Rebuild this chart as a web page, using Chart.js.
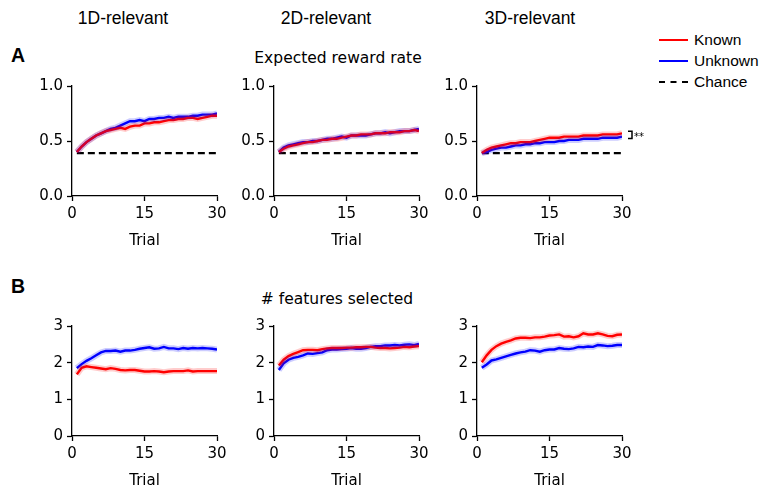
<!DOCTYPE html>
<html>
<head>
<meta charset="utf-8">
<script src="https://cdn.jsdelivr.net/npm/chart.js@4.4.1/dist/chart.umd.min.js"></script>
<style>
  body { margin: 0; background: #fff; width: 761px; height: 489px; position: relative; overflow: hidden; }
  canvas { position: absolute; }
  .txt { position: absolute; white-space: nowrap; color: #000; transform: translate(-50%, -50%); }
  .arial { font-family: "Liberation Sans", Arial, sans-serif; }
  .dejavu { font-family: "DejaVu Sans", sans-serif; }
  .leg { position: absolute; font-family: "Liberation Sans", Arial, sans-serif; font-size: 15.5px; transform: translateY(-50%); }
  .legline { position: absolute; width: 29px; height: 0; }
</style>
</head>
<body>

<div class="txt arial" style="left:123px;top:18px;font-size:17.5px">1D-relevant</div>
<div class="txt arial" style="left:326px;top:18px;font-size:17.5px">2D-relevant</div>
<div class="txt arial" style="left:530px;top:18px;font-size:17.5px">3D-relevant</div>

<div class="txt arial" style="left:18px;top:55px;font-size:19.5px;font-weight:bold">A</div>
<div class="txt dejavu" style="left:338px;top:58px;font-size:15.5px">Expected reward rate</div>
<div class="txt arial" style="left:18px;top:286px;font-size:19.5px;font-weight:bold">B</div>
<div class="txt dejavu" style="left:337px;top:299px;font-size:15.5px"># features selected</div>

<div class="legline" style="left:659px;top:39px;border-top:2px solid #ff0000"></div>
<div class="leg" style="left:694px;top:40px">Known</div>
<div class="legline" style="left:659px;top:60px;border-top:2px solid #0000ff"></div>
<div class="leg" style="left:694px;top:61px">Unknown</div>
<div class="legline" style="left:659px;top:81px;border-top:2px dashed #000"></div>
<div class="leg" style="left:694px;top:82px">Chance</div>

<canvas id="a1"></canvas>
<canvas id="a2"></canvas>
<canvas id="a3"></canvas>
<canvas id="b1"></canvas>
<canvas id="b2"></canvas>
<canvas id="b3"></canvas>

<script>
const trials = [1, 2, 3, 4, 5, 6, 7, 8, 9, 10, 11, 12, 13, 14, 15, 16, 17, 18, 19, 20, 21, 22, 23, 24, 25, 26, 27, 28, 29, 30];
const chanceLevel = 0.39;
const chanceSpan = [1, 30];

// Expected reward rate
const reward1DKnown   = [0.40,0.45,0.49,0.52,0.55,0.57,0.59,0.60,0.61,0.62,0.61,0.63,0.64,0.64,0.66,0.66,0.67,0.67,0.68,0.69,0.69,0.70,0.70,0.71,0.71,0.70,0.71,0.72,0.73,0.73];
const reward1DUnknown = [0.40,0.45,0.49,0.52,0.55,0.57,0.59,0.61,0.62,0.64,0.66,0.68,0.68,0.69,0.68,0.70,0.70,0.71,0.71,0.72,0.71,0.72,0.72,0.72,0.73,0.73,0.74,0.74,0.74,0.75];
const reward2DKnown   = [0.40,0.43,0.45,0.46,0.47,0.48,0.49,0.49,0.50,0.51,0.51,0.52,0.52,0.53,0.54,0.55,0.55,0.56,0.56,0.56,0.57,0.57,0.57,0.58,0.58,0.58,0.59,0.59,0.60,0.59];
const reward2DUnknown = [0.40,0.44,0.46,0.47,0.48,0.49,0.49,0.50,0.50,0.51,0.52,0.52,0.53,0.54,0.53,0.55,0.55,0.55,0.55,0.56,0.57,0.57,0.58,0.57,0.58,0.59,0.59,0.59,0.60,0.61];
const reward3DKnown   = [0.39,0.42,0.44,0.45,0.46,0.47,0.48,0.48,0.49,0.49,0.49,0.50,0.51,0.52,0.53,0.53,0.53,0.54,0.54,0.54,0.54,0.55,0.55,0.55,0.55,0.56,0.56,0.56,0.56,0.57];
const reward3DUnknown = [0.39,0.40,0.42,0.43,0.44,0.44,0.45,0.46,0.46,0.47,0.47,0.48,0.48,0.49,0.49,0.49,0.50,0.50,0.51,0.51,0.51,0.52,0.52,0.52,0.52,0.53,0.53,0.53,0.53,0.54];

// # features selected
const feat1DKnown   = [1.68,1.86,1.90,1.88,1.86,1.84,1.82,1.85,1.83,1.80,1.79,1.80,1.80,1.78,1.76,1.76,1.77,1.76,1.74,1.76,1.77,1.77,1.77,1.79,1.76,1.77,1.77,1.77,1.77,1.77];
const feat1DUnknown = [1.85,1.96,2.05,2.12,2.20,2.28,2.32,2.32,2.33,2.30,2.33,2.33,2.35,2.38,2.40,2.42,2.38,2.39,2.43,2.39,2.39,2.37,2.40,2.38,2.40,2.39,2.40,2.39,2.38,2.36];
const feat2DKnown   = [1.92,2.08,2.18,2.24,2.29,2.34,2.35,2.35,2.34,2.37,2.39,2.40,2.40,2.40,2.41,2.41,2.42,2.42,2.43,2.43,2.41,2.40,2.40,2.39,2.40,2.41,2.43,2.42,2.44,2.45];
const feat2DUnknown = [1.80,1.98,2.08,2.13,2.16,2.20,2.25,2.24,2.26,2.28,2.34,2.36,2.36,2.37,2.38,2.40,2.38,2.38,2.40,2.43,2.45,2.45,2.47,2.47,2.48,2.47,2.49,2.50,2.48,2.51];
const feat3DKnown   = [2.01,2.20,2.35,2.45,2.52,2.57,2.61,2.66,2.68,2.68,2.67,2.69,2.69,2.71,2.74,2.75,2.77,2.71,2.72,2.69,2.72,2.80,2.77,2.77,2.80,2.77,2.73,2.72,2.76,2.77];
const feat3DUnknown = [1.86,1.95,2.06,2.09,2.13,2.17,2.21,2.25,2.28,2.30,2.34,2.33,2.30,2.34,2.36,2.36,2.40,2.38,2.37,2.39,2.43,2.42,2.44,2.43,2.48,2.47,2.45,2.46,2.48,2.48];

const xTicks = [0, 15, 30];
const rewardTicks = [0, 0.5, 1.0];
const featTicks = [0, 1, 2, 3];

const RED = '#ff0000';
const BLUE = '#0000ff';
const PAD_LEFT = 50, PAD_TOP = 12, AXIS_H = 60;

function pts(values) {
    return values.map((v, i) => ({ x: trials[i], y: v }));
}

// significance bracket next to the last points of the 3D reward panel
const bracketPlugin = {
    id: 'bracket',
    afterDatasetsDraw(chart) {
        if (!chart.options.plugins.bracket.show) return;
        const ctx = chart.ctx;
        const x = chart.scales.x.getPixelForValue(30) + 10;
        const y1 = chart.scales.y.getPixelForValue(reward3DKnown[29]) - 2;
        const y2 = chart.scales.y.getPixelForValue(reward3DUnknown[29]) + 2;
        ctx.save();
        ctx.strokeStyle = '#000';
        ctx.lineWidth = 1.5;
        ctx.beginPath();
        ctx.moveTo(x - 4, y1);
        ctx.lineTo(x, y1);
        ctx.lineTo(x, y2);
        ctx.lineTo(x - 4, y2);
        ctx.stroke();
        ctx.fillStyle = '#000';
        ctx.font = '10px "DejaVu Sans"';
        ctx.textBaseline = 'middle';
        ctx.fillText('**', x + 2, (y1 + y2) / 2 + 2);
        ctx.restore();
    }
};

function makePanel(id, axisX, axisTop, known, unknown, yTicks, withChance, withBracket) {
    const plotW = 145, plotH = 111;
    const padRight = withBracket ? 34 : 16;
    const canvas = document.getElementById(id);
    canvas.width = PAD_LEFT + plotW + padRight;
    canvas.height = PAD_TOP + plotH + AXIS_H;
    canvas.style.left = (axisX - PAD_LEFT) + 'px';
    canvas.style.top = (axisTop - PAD_TOP) + 'px';

    const datasets = [
        { data: pts(known), borderColor: 'rgba(255,0,0,0.2)', borderWidth: 6 },
        { data: pts(unknown), borderColor: 'rgba(0,0,255,0.2)', borderWidth: 6 },
        { data: pts(known), borderColor: RED, borderWidth: 2.4 },
        { data: pts(unknown), borderColor: BLUE, borderWidth: 2.4 }
    ];
    if (withChance) {
        datasets.push({
            data: chanceSpan.map(t => ({ x: t, y: chanceLevel })),
            borderColor: '#000', borderWidth: 2.4, borderDash: [7, 4]
        });
    }
    datasets.forEach(d => { d.pointRadius = 0; d.fill = false; d.tension = 0; });

    const yMax = yTicks[yTicks.length - 1];
    return new Chart(canvas.getContext('2d'), {
        type: 'line',
        data: { datasets },
        plugins: [bracketPlugin],
        options: {
            responsive: false,
            animation: false,
            devicePixelRatio: 1,
            layout: { padding: { left: 0, top: PAD_TOP, right: padRight, bottom: 0 } },
            plugins: { legend: { display: false }, tooltip: { enabled: false }, bracket: { show: withBracket } },
            scales: {
                x: {
                    type: 'linear', min: 0, max: 30,
                    afterBuildTicks: s => { s.ticks = xTicks.map(v => ({ value: v })); },
                    afterFit: s => { s.height = AXIS_H; },
                    grid: { drawOnChartArea: false, drawTicks: true, tickLength: 5, color: '#000', tickWidth: 1.3 },
                    border: { display: true, color: '#000', width: 1.3 },
                    ticks: { color: '#000', font: { family: 'DejaVu Sans', size: 15 }, padding: 4, maxRotation: 0 },
                    title: { display: true, text: 'Trial', color: '#000', font: { family: 'DejaVu Sans', size: 15 }, padding: { top: 4, bottom: 6 } }
                },
                y: {
                    type: 'linear', min: 0, max: yMax,
                    afterBuildTicks: s => { s.ticks = yTicks.map(v => ({ value: v })); },
                    afterFit: s => { s.width = PAD_LEFT; },
                    grid: { drawOnChartArea: false, drawTicks: true, tickLength: 5, color: '#000', tickWidth: 1.3 },
                    border: { display: true, color: '#000', width: 1.3 },
                    ticks: {
                        color: '#000', font: { family: 'DejaVu Sans', size: 15 }, padding: 4,
                        callback: v => yMax === 1 ? v.toFixed(1) : String(v)
                    }
                }
            }
        }
    });
}

makePanel('a1', 72, 85, reward1DKnown, reward1DUnknown, rewardTicks, true, false);
makePanel('a2', 274, 85, reward2DKnown, reward2DUnknown, rewardTicks, true, false);
makePanel('a3', 477, 85, reward3DKnown, reward3DUnknown, rewardTicks, true, true);
makePanel('b1', 72, 325, feat1DKnown, feat1DUnknown, featTicks, false, false);
makePanel('b2', 274, 325, feat2DKnown, feat2DUnknown, featTicks, false, false);
makePanel('b3', 477, 325, feat3DKnown, feat3DUnknown, featTicks, false, false);
</script>
</body>
</html>
